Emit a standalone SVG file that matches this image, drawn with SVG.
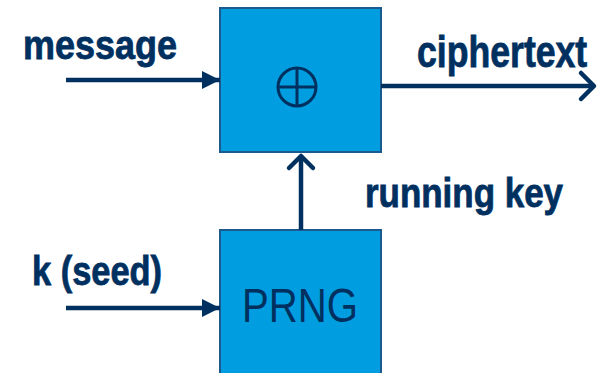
<svg xmlns="http://www.w3.org/2000/svg" width="598" height="373" viewBox="0 0 598 373">
<style>
.box{fill:#009EE0;stroke:#1A5A8E;stroke-width:2}
.lbl{font-family:"Liberation Sans",Arial,sans-serif;font-weight:bold;font-size:41px;fill:#00305F;stroke:#00305F;stroke-width:0.8}
.conn{stroke:#00305F;stroke-width:4.5;fill:none}
.chev{stroke:#00305F;stroke-width:4.5;fill:none;stroke-linecap:round;stroke-linejoin:round}
</style>
<defs>
<marker id="tri" markerUnits="userSpaceOnUse" markerWidth="20" markerHeight="20" refX="18" refY="10" orient="auto">
<path d="M0,1 L18,10 L0,19 Z" fill="#00305F"/>
</marker>
</defs>
<g id="xor">
<rect class="box" x="220" y="8" width="161" height="144"/>
<circle cx="297" cy="87" r="19" fill="none" stroke="#00305F" stroke-width="3"/>
<line x1="278" y1="87" x2="316" y2="87" stroke="#00305F" stroke-width="3"/>
<line x1="297" y1="68" x2="297" y2="106" stroke="#00305F" stroke-width="3"/>
</g>
<g id="prng">
<rect class="box" x="220" y="230" width="161" height="150"/>
<text x="242" y="322" textLength="116" lengthAdjust="spacingAndGlyphs" font-family="'Liberation Sans',Arial,sans-serif" font-size="49" fill="#00305F">PRNG</text>
</g>
<g id="connectors">
<line class="conn" x1="66" y1="80" x2="220" y2="80" marker-end="url(#tri)"/>
<line class="conn" x1="66" y1="308" x2="220" y2="308" marker-end="url(#tri)"/>
<line class="conn" x1="381" y1="86" x2="594" y2="86"/>
<polyline class="chev" points="581,73 594,86 581,99"/>
<line class="conn" x1="301" y1="230" x2="301" y2="156"/>
<polyline class="chev" points="289,168 301,156 313,168"/>
</g>
<g id="labels">
<text class="lbl" x="23" y="59" textLength="154" lengthAdjust="spacingAndGlyphs">message</text>
<text class="lbl" transform="translate(417,67) scale(0.81,1)" x="0" y="0" style="font-size:44px">ciphertext</text>
<text class="lbl" x="365" y="207" textLength="198" lengthAdjust="spacingAndGlyphs">running key</text>
<text class="lbl" x="32" y="285" textLength="130" lengthAdjust="spacingAndGlyphs">k (seed)</text>
</g>
</svg>
